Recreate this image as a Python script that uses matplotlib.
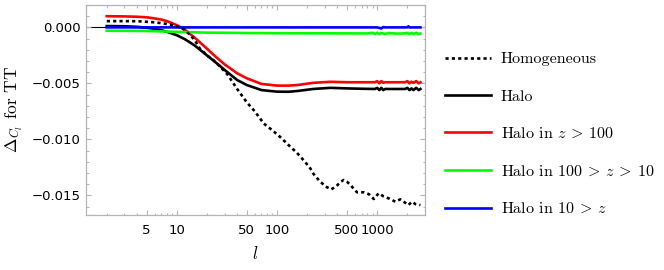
import matplotlib
matplotlib.use('Agg')
import matplotlib.pyplot as plt
from matplotlib.ticker import FixedLocator, FuncFormatter, MultipleLocator, NullFormatter

plt.rcParams['mathtext.fontset'] = 'cm'
plt.rcParams['font.family'] = 'DejaVu Sans'

# Homogeneous (dotted)
l_hom = [2, 3, 4, 5, 6, 7, 8, 10, 12, 15, 17, 20, 23, 27, 32, 40, 50, 60, 74, 90, 108, 130, 158, 190, 215,
         232, 265, 304, 347, 390, 430, 464, 500, 545, 590, 631, 735, 827, 925, 1035, 1160, 1300, 1520,
         1700, 1900, 2050, 2220, 2400, 2700]
v_hom = [0.00056, 0.00056, 0.00055, 0.0005, 0.00045, 0.00038, 0.0003, 0.0001, -0.0002, -0.0011, -0.0019,
         -0.0025, -0.0029, -0.0035, -0.0042, -0.0055, -0.0067, -0.0075, -0.0086, -0.0092, -0.0098, -0.0105,
         -0.0112, -0.0120, -0.0126, -0.0131, -0.0137, -0.0142, -0.01447, -0.0142, -0.0138, -0.01363, -0.0138,
         -0.01408, -0.0145, -0.01473, -0.01473, -0.0149, -0.01533, -0.01482, -0.0151, -0.01527, -0.01557,
         -0.01536, -0.01566, -0.01587, -0.01557, -0.01578, -0.01587]

# Halo (solid black)
l_halo = [2, 3, 4, 5, 6, 7, 8, 10, 12, 15, 20, 25, 30, 40, 50, 70, 100, 130, 160, 230, 340, 500, 700,
          950, 1000, 1050, 1100, 1150, 1200, 1500, 1900, 2000, 2100, 2200, 2300, 2450, 2600, 2700]
v_halo = [0.00012, 0.0001, 0.00005, -0.00003, -0.00013, -0.00025, -0.0004, -0.0007, -0.00105, -0.0016,
          -0.0025, -0.0032, -0.0038, -0.0047, -0.00515, -0.0056, -0.00574, -0.00575, -0.00568, -0.0055,
          -0.0054, -0.00545, -0.00548, -0.0055, -0.0054, -0.0056, -0.0054, -0.0056, -0.0055, -0.0055,
          -0.0055, -0.0054, -0.0056, -0.00545, -0.0056, -0.0054, -0.0056, -0.0055]

# Halo in z > 100 (red)
l_red = [2, 3, 4, 5, 6, 7, 8, 10, 12, 15, 20, 25, 30, 40, 50, 70, 100, 130, 160, 230, 340, 500, 700,
         950, 1000, 1050, 1100, 1150, 1200, 1500, 1900, 2000, 2100, 2200, 2300, 2450, 2600, 2700]
v_red = [0.001, 0.00098, 0.00095, 0.0009, 0.0008, 0.0007, 0.00055, 0.0002, -0.0002, -0.0009, -0.0019,
         -0.0027, -0.0033, -0.0041, -0.00455, -0.00505, -0.0052, -0.0052, -0.00515, -0.00495, -0.00486,
         -0.0049, -0.0049, -0.0049, -0.0048, -0.0050, -0.0048, -0.00495, -0.0049, -0.0049, -0.0049, -0.0048,
         -0.0050, -0.00485, -0.00495, -0.0048, -0.0050, -0.0049]

# Halo in 100 > z > 10 (green)
l_green = [2, 5, 10, 20, 50, 100, 300, 800, 900, 950, 1000, 1050, 1100, 1200, 1300, 1500, 1800, 2000,
           2100, 2200, 2300, 2450, 2600, 2700]
v_green = [-0.0003, -0.00032, -0.0004, -0.00047, -0.0005, -0.00052, -0.00053, -0.00054, -0.00048,
           -0.0006, -0.00048, -0.0006, -0.00049, -0.00059, -0.0005, -0.00055, -0.00055, -0.00049,
           -0.0006, -0.00049, -0.0006, -0.00049, -0.0006, -0.00055]

# Halo in 10 > z (blue)
l_blue = [2, 10, 100, 1000, 1100, 1150, 1200, 2000, 2050, 2100, 2700]
v_blue = [0.0, 0.0, 0.0, 0.0, -0.0001, 0.00003, 0.0, 0.0, 0.0001, 0.0, 0.0]

x_major = [5, 10, 50, 100, 500, 1000]
x_minor = [2, 3, 4, 6, 7, 8, 9, 20, 30, 40, 60, 70, 80, 90, 200, 300, 400, 600, 700, 800, 900, 2000, 3000]

fig = plt.figure(figsize=(6.64, 2.70), dpi=100)
ax = fig.add_axes([86 / 664, 1 - 214.7 / 270, 339 / 664, 209.7 / 270])

ax.axhline(0, color='black', lw=0.8, zorder=1)
ax.plot(l_hom, v_hom, color='black', lw=1.9, ls=(0, (1.2, 1.2)), label='Homogeneous', zorder=6)
ax.plot(l_halo, v_halo, color='black', lw=1.9, label='Halo', zorder=3)
ax.plot(l_red, v_red, color='#ff0000', lw=1.9, label='Halo in $z\\:>\\:100$', zorder=4)
ax.plot(l_green, v_green, color='#00ff00', lw=1.9, label='Halo in $100\\:>\\:z\\:>\\:10$', zorder=4)
ax.plot(l_blue, v_blue, color='#0000ff', lw=1.9, label='Halo in $10\\:>\\:z$', zorder=5)

ax.set_xscale('log')
ax.set_xlim(1.24, 3000)
ax.set_ylim(-0.01673, 0.002)

ax.xaxis.set_major_locator(FixedLocator(x_major))
ax.xaxis.set_minor_locator(FixedLocator(x_minor))
ax.xaxis.set_major_formatter(FuncFormatter(lambda v, p: '%d' % v))
ax.xaxis.set_minor_formatter(NullFormatter())
ax.yaxis.set_major_locator(MultipleLocator(0.005))
ax.yaxis.set_minor_locator(MultipleLocator(0.001))
ax.yaxis.set_major_formatter(FuncFormatter(
    lambda v, p: ('%.3f' % v).replace('-', '\u2212') if abs(v) > 1e-9 else '0.000'))

frame_col = '#b4b4b4'
for s in ax.spines.values():
    s.set_color(frame_col)
    s.set_linewidth(0.9)
ax.tick_params(which='both', direction='in', top=True, right=True, color=frame_col, width=0.8,
               labelsize=9.5, labelcolor='black')
ax.tick_params(which='major', length=3.4)
ax.tick_params(which='minor', length=1.8)
ax.tick_params(axis='x', pad=7)
ax.tick_params(axis='y', pad=4)

ax.set_xlabel('$l$', fontsize=12)
ax.xaxis.set_label_coords(0.5, -0.145)
ax.set_ylabel('$\\Delta_{C_l}$ for TT', fontsize=12.5, family='cmr10')
ax.yaxis.set_label_coords(-0.18, 0.5)

leg = ax.legend(loc='upper left', bbox_to_anchor=(445 / 664, 1 - 52 / 270),
                bbox_transform=fig.transFigure, frameon=False, prop={'family': 'cmr10', 'size': 11.5},
                handlelength=2.9, handletextpad=0.6, labelspacing=1.45, borderpad=0, borderaxespad=0)

fig.savefig('out.png', dpi=100)
